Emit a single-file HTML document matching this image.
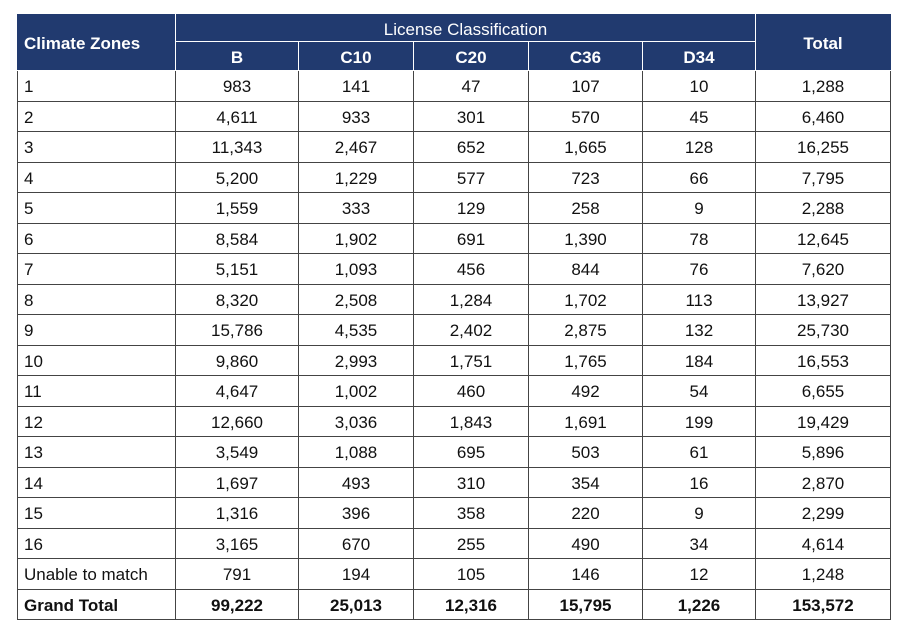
<!DOCTYPE html>
<html><head><style>
body{margin:0;background:#fff;width:906px;height:635px;overflow:hidden;font-family:"Liberation Sans",sans-serif;}
table{position:absolute;left:17px;top:14px;border-collapse:collapse;table-layout:fixed;font-size:17px;color:#111;}
td,th{padding:2px 0 0 0;border:1px solid #444;text-align:center;line-height:1;}
th{background:#213a6f;color:#fff;font-weight:bold;border-color:#fff;}
thead tr:first-child th{border-top-color:#213a6f}
th.l{border-left-color:#213a6f;text-align:left;padding-left:6px}
th.r{border-right-color:#213a6f}
td:first-child{text-align:left;padding-left:6px}
tbody td{height:27.5px}
tr.gt td{font-weight:bold}
</style></head><body>
<table>
<colgroup><col style="width:158px"><col style="width:123px"><col style="width:115px"><col style="width:115px"><col style="width:114px"><col style="width:113px"><col style="width:135px"></colgroup>
<thead>
<tr style="height:27px"><th rowspan="2" class="l">Climate Zones</th><th colspan="5" style="font-weight:normal;font-size:17px">License Classification</th><th rowspan="2" class="r">Total</th></tr>
<tr style="height:29px"><th>B</th><th>C10</th><th>C20</th><th>C36</th><th>D34</th></tr>
</thead>
<tbody>
<tr><td>1</td><td>983</td><td>141</td><td>47</td><td>107</td><td>10</td><td>1,288</td></tr>
<tr><td>2</td><td>4,611</td><td>933</td><td>301</td><td>570</td><td>45</td><td>6,460</td></tr>
<tr><td>3</td><td>11,343</td><td>2,467</td><td>652</td><td>1,665</td><td>128</td><td>16,255</td></tr>
<tr><td>4</td><td>5,200</td><td>1,229</td><td>577</td><td>723</td><td>66</td><td>7,795</td></tr>
<tr><td>5</td><td>1,559</td><td>333</td><td>129</td><td>258</td><td>9</td><td>2,288</td></tr>
<tr><td>6</td><td>8,584</td><td>1,902</td><td>691</td><td>1,390</td><td>78</td><td>12,645</td></tr>
<tr><td>7</td><td>5,151</td><td>1,093</td><td>456</td><td>844</td><td>76</td><td>7,620</td></tr>
<tr><td>8</td><td>8,320</td><td>2,508</td><td>1,284</td><td>1,702</td><td>113</td><td>13,927</td></tr>
<tr><td>9</td><td>15,786</td><td>4,535</td><td>2,402</td><td>2,875</td><td>132</td><td>25,730</td></tr>
<tr><td>10</td><td>9,860</td><td>2,993</td><td>1,751</td><td>1,765</td><td>184</td><td>16,553</td></tr>
<tr><td>11</td><td>4,647</td><td>1,002</td><td>460</td><td>492</td><td>54</td><td>6,655</td></tr>
<tr><td>12</td><td>12,660</td><td>3,036</td><td>1,843</td><td>1,691</td><td>199</td><td>19,429</td></tr>
<tr><td>13</td><td>3,549</td><td>1,088</td><td>695</td><td>503</td><td>61</td><td>5,896</td></tr>
<tr><td>14</td><td>1,697</td><td>493</td><td>310</td><td>354</td><td>16</td><td>2,870</td></tr>
<tr><td>15</td><td>1,316</td><td>396</td><td>358</td><td>220</td><td>9</td><td>2,299</td></tr>
<tr><td>16</td><td>3,165</td><td>670</td><td>255</td><td>490</td><td>34</td><td>4,614</td></tr>
<tr><td>Unable to match</td><td>791</td><td>194</td><td>105</td><td>146</td><td>12</td><td>1,248</td></tr>
<tr class="gt"><td>Grand Total</td><td>99,222</td><td>25,013</td><td>12,316</td><td>15,795</td><td>1,226</td><td>153,572</td></tr>
</tbody>
</table>
</body></html>
